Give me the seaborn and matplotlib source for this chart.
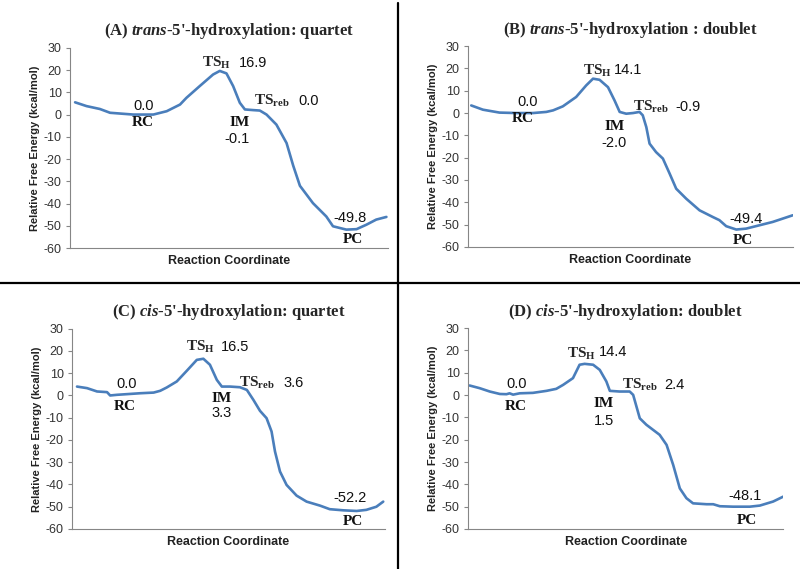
import numpy as np
import pandas as pd
import matplotlib
matplotlib.use("Agg")
import matplotlib.pyplot as plt
import seaborn as sns

# reaction coordinate (0-100) and free energy
xa = [1.6, 5.2, 9.4, 12.6, 19.9, 26.2, 30.4, 34.6, 36.6, 40.8, 45.0, 47.1, 49.2, 51.3, 53.4, 55.0,
      57.6, 59.7, 61.8, 64.9, 68.1, 70.2, 72.3, 76.4, 80.6, 82.7, 86.9, 90.1, 93.2, 96.3, 99.5]
ya = [5.5, 3.8, 2.5, 0.8, 0.0, 0.0, 1.5, 4.5, 7.5, 12.8, 18.0, 19.6, 18.5, 12.8, 5.3, 2.3,
      2.0, 1.8, 0.0, -4.5, -12.8, -23.0, -32.0, -39.8, -45.8, -50.2, -51.7, -51.5, -49.5, -47.2, -46.0]

xb = [1.0, 4.6, 9.7, 14.9, 20.0, 24.1, 26.2, 29.2, 33.3, 36.4, 38.5, 40.5, 43.1, 45.1, 46.7, 48.7,
      50.8, 52.8, 53.8, 54.9, 55.9, 57.9, 60.0, 62.1, 64.1, 67.2, 71.3, 75.4, 77.4, 79.5, 82.6,
      85.6, 89.7, 93.8, 96.9, 100.0]
yb = [3.4, 1.5, 0.2, 0.0, 0.0, 0.5, 1.2, 3.0, 7.2, 12.4, 15.4, 14.9, 11.6, 5.7, 0.5, -0.3,
      0.0, 0.5, -1.0, -6.3, -13.7, -17.5, -20.4, -27.2, -33.9, -38.4, -43.6, -46.6, -48.0, -50.7, -52.2,
      -51.8, -50.3, -48.8, -47.3, -45.8]

xc = [1.6, 4.8, 8.0, 11.2, 12.2, 14.4, 17.6, 21.8, 26.1, 28.2, 30.3, 33.5, 36.7, 39.9, 42.0, 44.1,
      46.3, 47.9, 50.5, 53.7, 55.9, 58.0, 60.1, 62.2, 63.8, 64.9, 66.5, 68.6, 71.8, 75.0, 79.3,
      82.4, 86.7, 91.0, 94.1, 97.3, 99.5]
yc = [4.0, 3.3, 1.8, 1.5, 0.0, 0.3, 0.6, 1.0, 1.3, 2.1, 3.6, 6.3, 11.1, 16.0, 16.5, 13.8,
      7.0, 4.0, 4.0, 3.7, 2.5, -2.0, -6.9, -10.2, -16.2, -25.2, -34.2, -40.2, -45.0, -47.7, -49.5,
      -51.1, -51.6, -51.9, -51.4, -50.0, -47.7]

xd = [0.5, 3.7, 6.9, 10.1, 12.2, 13.2, 14.3, 16.4, 20.6, 24.9, 28.0, 30.2, 33.3, 35.4, 37.0, 39.7,
      41.8, 43.9, 45.0, 48.1, 51.3, 52.4, 54.5, 56.6, 60.8, 63.0, 65.1, 67.2, 69.3, 71.4, 75.7,
      77.8, 79.9, 84.1, 89.4, 92.6, 96.8, 100.0]
yd = [4.3, 3.1, 1.6, 0.5, 0.4, 0.8, 0.2, 0.8, 1.0, 1.9, 2.8, 4.6, 7.6, 13.6, 14.0, 13.6,
      11.3, 6.1, 1.9, 1.6, 1.6, 0.1, -10.4, -13.3, -17.8, -22.3, -31.3, -41.8, -46.2, -48.5, -48.9,
      -48.9, -49.8, -50.0, -50.0, -49.5, -47.7, -45.5]

titles = [r"(A) $\mathbfit{trans}$-5'-hydroxylation: quartet",
          r"(B) $\mathbfit{trans}$-5'-hydroxylation : doublet",
          r"(C) $\mathbfit{cis}$-5'-hydroxylation: quartet",
          r"(D) $\mathbfit{cis}$-5'-hydroxylation: doublet"]

# energies of stationary points: RC, TS_H, IM, TS_reb, PC
energies = [["0.0", "16.9", "-0.1", "0.0", "-49.8"],
            ["0.0", "14.1", "-2.0", "-0.9", "-49.4"],
            ["0.0", "16.5", "3.3", "3.6", "-52.2"],
            ["0.0", "14.4", "1.5", "2.4", "-48.1"]]

# label positions (x, y) in data units: RCval, RC, TSH, TSHval, IM, IMval, TSreb, TSrebval, PCval, PC
label_pos = [
    [(23, 3.8), (23, -3.4), (46, 23.3), (57.6, 23.3), (53.4, -3.4), (52.6, -11), (63.4, 6), (74.9, 6), (88, -46.5), (89, -56)],
    [(18.5, 4.9), (16.9, -2.5), (40, 19), (49.2, 19.5), (45.1, -6), (45.1, -13.4), (56.4, 2.7), (67.7, 2.7), (85.6, -47.3), (84.6, -57)],
    [(17.6, 5.3), (17, -5), (41, 22), (52.1, 22), (47.9, -1.2), (47.9, -8), (59, 5.5), (70.7, 5.5), (88.8, -46.2), (89.9, -56.7)],
    [(15.3, 5.0), (15.3, -5.1), (36, 18.5), (46, 19.5), (42.9, -3.6), (43, -11.5), (54.5, 4.6), (65.6, 4.6), (87.8, -45), (88.4, -56)],
]

series = [(xa, ya), (xb, yb), (xc, yc), (xd, yd)]
boxes = [[0.0875, 0.564, 0.3975, 0.352],
         [0.585, 0.566, 0.406, 0.353],
         [0.09, 0.0703, 0.391, 0.352],
         [0.585, 0.0703, 0.394, 0.353]]

sns.set_style("white")
plt.rcParams['font.family'] = ['Liberation Sans', 'DejaVu Sans']
plt.rcParams['axes.unicode_minus'] = False
plt.rcParams['mathtext.fontset'] = 'custom'
plt.rcParams['mathtext.rm'] = 'Liberation Serif'
plt.rcParams['mathtext.bfit'] = 'Liberation Serif:bold:italic'
plt.rcParams['mathtext.it'] = 'Liberation Serif:italic'
plt.rcParams['mathtext.bf'] = 'Liberation Serif:bold'

fig = plt.figure(figsize=(8, 5.69), dpi=100)
line_col = '#4a7ebb'
axis_col = '#868686'
serif = 'Liberation Serif'

for k in range(4):
    ax = fig.add_axes(boxes[k])
    df = pd.DataFrame({'x': series[k][0], 'y': series[k][1]})
    sns.lineplot(data=df, x='x', y='y', ax=ax, color=line_col, lw=1.9)
    ax.set_xlim(0, 100)
    ax.set_ylim(-60, 30)
    ax.set_yticks(np.arange(-60, 31, 10))
    ax.set_xticks([])
    for s in ['top', 'right']:
        ax.spines[s].set_visible(False)
    for s in ['left', 'bottom']:
        ax.spines[s].set_color(axis_col)
        ax.spines[s].set_linewidth(0.8)
    ax.tick_params(axis='y', length=3, width=0.8, color=axis_col, labelsize=9, pad=3,
                   labelcolor='#333333', left=True)
    ax.set_xlabel("Reaction Coordinate", fontsize=9, fontweight='bold', color='#222222', labelpad=5)
    ax.set_ylabel("Relative Free Energy (kcal/mol)", fontsize=8, fontweight='bold', color='#222222', labelpad=3)
    ax.set_title(titles[k], fontsize=12, fontweight='bold', family=serif, pad=9)

    e = energies[k]
    p = label_pos[k]
    num_kw = dict(fontsize=10.5, ha='center', va='center', color='#111111')
    lab_kw = dict(fontsize=11, ha='center', va='center', fontweight='bold', family=serif, color='#111111')
    ax.text(*p[0], e[0], **num_kw)
    ax.text(*p[1], "RC", **lab_kw)
    ax.text(*p[2], r"$\mathbf{TS_H}$", fontsize=11, ha='center', va='center')
    ax.text(*p[3], e[1], **num_kw)
    ax.text(*p[4], "IM", **lab_kw)
    ax.text(*p[5], e[2], **num_kw)
    ax.text(*p[6], r"$\mathbf{TS_{reb}}$", fontsize=11, ha='center', va='center')
    ax.text(*p[7], e[3], **num_kw)
    ax.text(*p[8], e[4], **num_kw)
    ax.text(*p[9], "PC", **lab_kw)

# panel dividers
fig.add_artist(plt.Line2D([0.4975, 0.4975], [0.0, 0.995], transform=fig.transFigure, color='black', lw=1.6))
fig.add_artist(plt.Line2D([0.0, 1.0], [0.502, 0.502], transform=fig.transFigure, color='black', lw=1.6))

fig.savefig("out.png", dpi=100, facecolor='white')
